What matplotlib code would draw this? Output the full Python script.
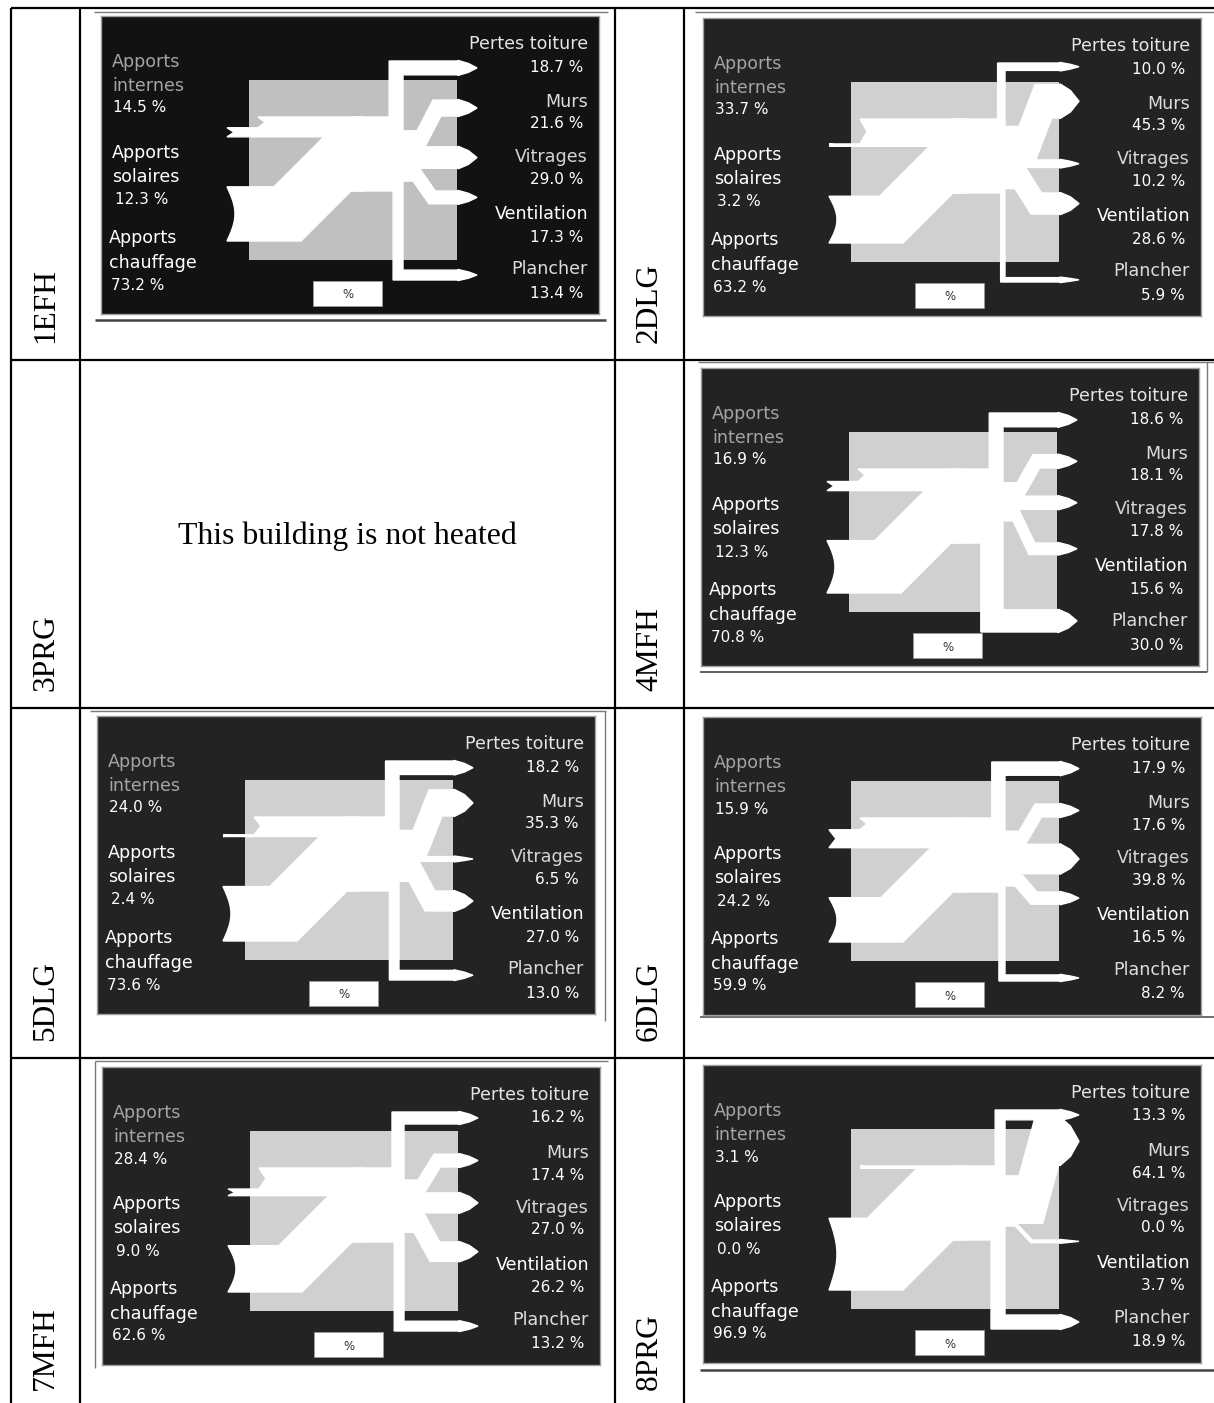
import numpy as np
import matplotlib
matplotlib.use("Agg")
import matplotlib.pyplot as plt
from matplotlib.patches import Polygon, Rectangle

W, H, DPI = 1214, 1403, 100

# ---- energy balance per building (% of total) ----
buildings = ["1EFH", "2DLG", "3PRG", "4MFH", "5DLG", "6DLG", "7MFH", "8PRG"]
apports_internes = [14.5, 33.7, None, 16.9, 24.0, 15.9, 28.4, 3.1]
apports_solaires = [12.3, 3.2, None, 12.3, 2.4, 24.2, 9.0, 0.0]
apports_chauffage = [73.2, 63.2, None, 70.8, 73.6, 59.9, 62.6, 96.9]
pertes_toiture = [18.7, 10.0, None, 18.6, 18.2, 17.9, 16.2, 13.3]
murs = [21.6, 45.3, None, 18.1, 35.3, 17.6, 17.4, 64.1]
vitrages = [29.0, 10.2, None, 17.8, 6.5, 39.8, 27.0, 0.0]
ventilation = [17.3, 28.6, None, 15.6, 27.0, 16.5, 26.2, 3.7]
plancher = [13.4, 5.9, None, 30.0, 13.0, 8.2, 13.2, 18.9]
not_heated_text = "This building is not heated"

# ---- layout (pixels) ----
col_x = [11, 80, 615, 684]
row_y = [8, 360, 708, 1058, 1403]
panel_origin = {"1EFH": (101, 16), "2DLG": (703, 18), "4MFH": (701, 368),
                "5DLG": (97, 716), "6DLG": (703, 717), "7MFH": (102, 1067),
                "8PRG": (703, 1065)}
PW, PH = 498, 298
K = 0.74            # px per percent
BAND_TOP = 101

fig = plt.figure(figsize=(W / DPI, H / DPI), dpi=DPI)
sheet = fig.add_axes([0, 0, 1, 1])
sheet.set_xlim(0, W)
sheet.set_ylim(H, 0)
sheet.axis("off")

# table grid
for x in col_x:
    sheet.plot([x, x], [row_y[0], H], color="black", lw=1.6, solid_capstyle="butt")
for y in row_y[:-1]:
    sheet.plot([col_x[0], W], [y, y], color="black", lw=1.6, solid_capstyle="butt")

# window edges around the screenshots
edge_lines = [
    ((94, 608), (12, 12), "#7a7a7a", 1.0), ((95, 606), (320, 320), "#444444", 1.8),
    ((695, 1214), (12, 12), "#7a7a7a", 1.0),
    ((698, 1214), (362, 362), "#7a7a7a", 1.0), ((1207, 1207), (362, 672), "#7a7a7a", 1.0),
    ((700, 1207), (672, 672), "#444444", 1.2),
    ((90, 606), (711, 711), "#7a7a7a", 1.0), ((605, 605), (711, 1021), "#7a7a7a", 1.0),
    ((700, 1214), (1017, 1017), "#555555", 1.2),
    ((95, 608), (1061, 1061), "#7a7a7a", 1.0), ((95, 95), (1061, 1368), "#7a7a7a", 1.0),
    ((700, 1214), (1370, 1370), "#444444", 1.8),
]
for xs, ys, c, lw in edge_lines:
    sheet.plot(xs, ys, color=c, lw=lw, solid_capstyle="butt")

# row labels
label_cx = [45.5, 649.5]
for i, name in enumerate(buildings):
    r, c = divmod(i, 2)
    y0 = row_y[r + 1] - 17 if r < 3 else 1390
    sheet.text(label_cx[c], y0, name, rotation=90, rotation_mode="anchor",
               ha="left", va="center", fontsize=22.6, family="Liberation Serif",
               color="black")

sheet.text(347, 536, not_heated_text, ha="center", va="center", fontsize=22.9,
           family="Liberation Serif", color="black")


def arrow_head(xb, yt, yb, length=19):
    h = yb - yt
    yc = 0.5 * (yt + yb)
    return [(xb, yt - 0.6), (xb + 0.55 * length, yt + 0.18 * h), (xb + length, yc),
            (xb + 0.55 * length, yb - 0.18 * h), (xb, yb + 0.6)]


def notch(x0, yt, yb, depth, curved=False, n=12):
    # left edge from bottom to top, cut inwards
    if not curved:
        return [(x0, yb), (x0 + depth, 0.5 * (yt + yb)), (x0, yt)]
    t = np.linspace(0, 1, n)
    ys = yb + (yt - yb) * t
    xs = x0 + depth * np.sin(np.pi * t)
    return list(zip(xs, ys))


def white(ax, pts):
    ax.add_patch(Polygon(pts, closed=True, fc="white", ec="white", lw=1.0,
                         joinstyle="miter"))


def draw_panel(ax, i, dark):
    bg = "#121212" if dark else "#232323"
    grey = "#c0c0c0" if dark else "#d0d0d0"
    ax.set_facecolor(bg)
    ax.set_xlim(0, PW)
    ax.set_ylim(PH, 0)
    ax.set_xticks([])
    ax.set_yticks([])
    for s in ax.spines.values():
        s.set_color("#a0a0a0")
        s.set_linewidth(1.0)

    ax.add_patch(Rectangle((148, 64), 208, 180, fc=grey, ec="none"))

    hi, hs, hc = apports_internes[i] * K, apports_solaires[i] * K, apports_chauffage[i] * K
    y_cb = BAND_TOP + hi + hs + hc
    x_join = 262

    # gains entering on the left
    if hi > 0:
        yt, yb = BAND_TOP, BAND_TOP + hi
        white(ax, notch(157, yt, yb, 7) + [(x_join, yt), (x_join, yb)])
    if hs > 0:
        yt, yb = BAND_TOP + hi, BAND_TOP + hi + hs
        white(ax, notch(126, yt, yb, 7) + [(x_join, yt), (x_join, yb)])
    if hc > 0:
        yb0 = 225.0
        yt0 = yb0 - hc
        rise = yb0 - y_cb
        xs_b, xs_t = 200.0, 200.0 - 0.5 * hc
        pts = notch(126, yt0, yb0, 8, curved=True)
        pts += [(xs_t, yt0), (xs_t + rise, yt0 - rise), (x_join, yt0 - rise),
                (x_join, yb0 - rise), (xs_b + rise, yb0 - rise), (xs_b, yb0)]
        white(ax, pts)

    # losses leaving on the right
    x0, xc, xb = 250, 302, 357
    ht, hm, hv = pertes_toiture[i] * K, murs[i] * K, vitrages[i] * K
    hve, hp = ventilation[i] * K, plancher[i] * K
    y = BAND_TOP
    if ht > 0:
        top = 45.0
        white(ax, [(x0, y), (xc - ht, y), (xc - ht, top), (xb, top)]
              + arrow_head(xb, top, top + ht)
              + [(xb, top + ht), (xc, top + ht), (xc, y + ht), (x0, y + ht)])
    y += ht
    if hm > 0:
        db, dt = 100.0, 100.0 - hm
        white(ax, [(x0, y), (316, y), (332, dt), (xb, dt)]
              + arrow_head(xb, dt, db)
              + [(xb, db), (min(332 + 0.5 * hm, xb - 1), db),
                 (316 + 0.5 * hm, y + hm), (x0, y + hm)])
    y += hm
    if hv > 0:
        white(ax, [(x0, y), (xb, y)] + arrow_head(xb, y, y + hv) + [(xb, y + hv), (x0, y + hv)])
    y += hv
    if hve > 0:
        dt, db = 175.0, 175.0 + hve
        white(ax, [(x0, y), (312 + 0.5 * hve, y), (328 + 0.5 * hve, dt), (xb, dt)]
              + arrow_head(xb, dt, db)
              + [(xb, db), (328, db), (312, y + hve), (x0, y + hve)])
    y += hve
    if hp > 0:
        bot = 264.0
        white(ax, [(x0, y), (xc, y), (xc, bot - hp), (xb, bot - hp)]
              + arrow_head(xb, bot - hp, bot)
              + [(xb, bot), (xc - hp, bot), (xc - hp, y + hp), (x0, y + hp)])

    # labels
    fs_name, fs_val = 12.6, 11.0
    fam = "DejaVu Sans"
    grey_txt = "#a4a4a4"
    left_groups = [
        ("Apports", "internes", apports_internes[i], (46, 70, 92), 11, 12, grey_txt),
        ("Apports", "solaires", apports_solaires[i], (137, 161, 184), 11, 14, "white"),
        ("Apports", "chauffage", apports_chauffage[i], (222, 247, 269), 8, 10, "white"),
    ]
    for l1, l2, v, ys, xn, xv, col in left_groups:
        ax.text(xn, ys[0], l1, ha="left", va="center", color=col, fontsize=fs_name, family=fam)
        ax.text(xn, ys[1], l2, ha="left", va="center", color=col, fontsize=fs_name, family=fam)
        ax.text(xv, ys[2], f"{v:.1f} %", ha="left", va="center", color="white",
                fontsize=fs_val, family=fam)

    right_groups = [
        ("Pertes toiture", pertes_toiture[i], 28, 51, "#e4e4e4"),
        ("Murs", murs[i], 86, 108, "#dcdcdc"),
        ("Vitrages", vitrages[i], 141, 163, "#d4d4d4"),
        ("Ventilation", ventilation[i], 198, 221, "white"),
        ("Plancher", plancher[i], 253, 277, "#dcdcdc"),
    ]
    for name, v, yn, yv, col in right_groups:
        ax.text(487, yn, name, ha="right", va="center", color=col, fontsize=fs_name, family=fam)
        ax.text(482, yv, f"{v:.1f} %", ha="right", va="center", color="white",
                fontsize=fs_val, family=fam)

    ax.add_patch(Rectangle((212, 265), 69, 25, fc="white", ec="#9a9a9a", lw=0.6))
    ax.text(246.5, 279, "%", ha="center", va="center", color="#303030", fontsize=8.5, family=fam)


for i, name in enumerate(buildings):
    if name not in panel_origin:
        continue
    left, top = panel_origin[name]
    ax = fig.add_axes([left / W, 1 - (top + PH) / H, PW / W, PH / H])
    draw_panel(ax, i, dark=(name == "1EFH"))

fig.savefig("out.png", dpi=DPI)
